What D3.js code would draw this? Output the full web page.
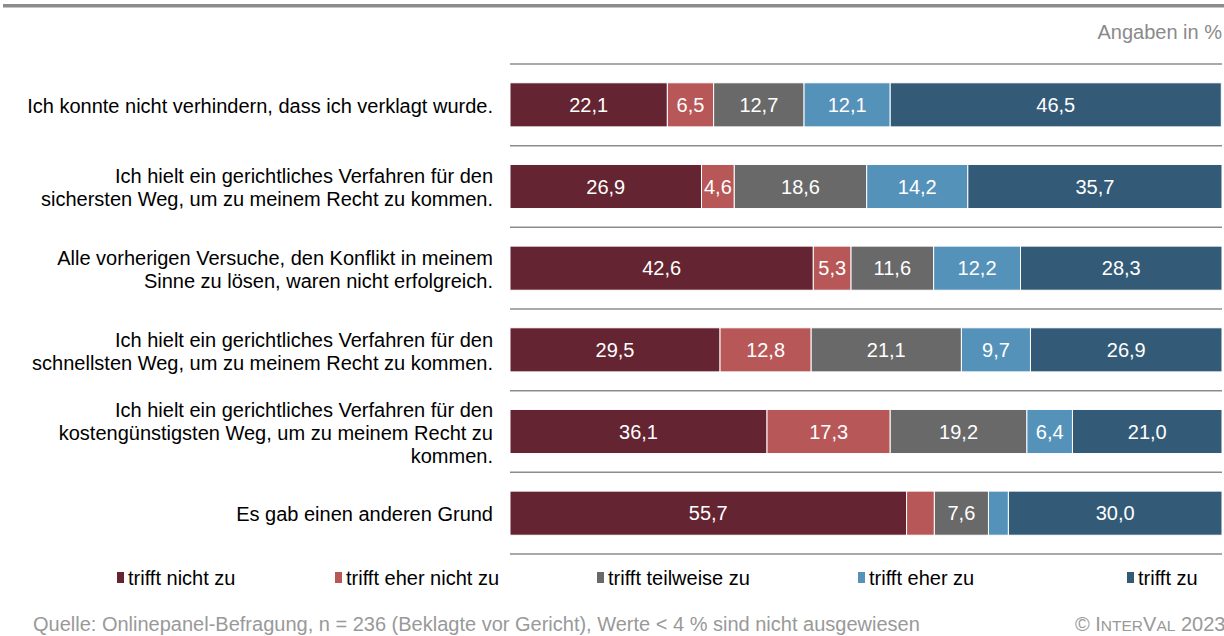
<!DOCTYPE html>
<html><head><meta charset="utf-8">
<script src="https://cdn.jsdelivr.net/npm/d3@7"></script>
<style>
html,body{margin:0;padding:0;background:#fff;overflow:hidden;}
svg{display:block;font-family:"Liberation Sans",Arial,sans-serif;}
</style></head>
<body>
<svg id="c" width="1224" height="636"></svg>
<script>
const categories = [
  ["Ich konnte nicht verhindern, dass ich verklagt wurde."],
  ["Ich hielt ein gerichtliches Verfahren für den","sichersten Weg, um zu meinem Recht zu kommen."],
  ["Alle vorherigen Versuche, den Konflikt in meinem","Sinne zu lösen, waren nicht erfolgreich."],
  ["Ich hielt ein gerichtliches Verfahren für den","schnellsten Weg, um zu meinem Recht zu kommen."],
  ["Ich hielt ein gerichtliches Verfahren für den","kostengünstigsten Weg, um zu meinem Recht zu","kommen."],
  ["Es gab einen anderen Grund"]
];
const seriesNames = ["trifft nicht zu","trifft eher nicht zu","trifft teilweise zu","trifft eher zu","trifft zu"];
const triffNichtZu      = [22.1, 26.9, 42.6, 29.5, 36.1, 55.7];
const triffEherNichtZu  = [6.5, 4.6, 5.3, 12.8, 17.3, 3.9];
const triffTeilweiseZu  = [12.7, 18.6, 11.6, 21.1, 19.2, 7.6];
const triffEherZu       = [12.1, 14.2, 12.2, 9.7, 6.4, 2.8];
const triffZu           = [46.5, 35.7, 28.3, 26.9, 21.0, 30.0];
const colors = ["#652431","#B85757","#696969","#5592BA","#335B78"];

const series = [triffNichtZu, triffEherNichtZu, triffTeilweiseZu, triffEherZu, triffZu];
const svg = d3.select("#c");
const FS = 20;

// top rule
svg.append("rect").attr("x",3).attr("y",4).attr("width",1221).attr("height",3.5).attr("fill","#8c8c8c");

svg.append("text").attr("x",1222).attr("y",39).attr("text-anchor","end")
  .attr("font-size",FS).attr("fill","#8a8a8a").text("Angaben in %");

const x = d3.scaleLinear().domain([0,100]).range([510,1222]);
const rowIdx = d3.range(categories.length);
const y = d3.scaleBand().domain(rowIdx).range([64,554]).paddingInner(0.46).paddingOuter(0.23);

// separator lines
const step = (554-64)/categories.length;
svg.selectAll("line.sep").data(d3.range(categories.length+1)).join("line")
  .attr("x1",510).attr("x2",1222)
  .attr("y1",d=>64+d*step).attr("y2",d=>64+d*step)
  .attr("stroke","#8c8c8c").attr("stroke-width",1.5);

// bars
rowIdx.forEach(i=>{
  let cum = 0;
  series.forEach((s,k)=>{
    const v = s[i];
    const x0 = x(cum), x1 = x(cum+v);
    svg.append("rect").attr("x",x0).attr("y",y(i)).attr("width",x1-x0).attr("height",y.bandwidth())
      .attr("fill",colors[k]).attr("stroke","#fff").attr("stroke-width",1);
    if (v >= 4) {
      svg.append("text").attr("x",(x0+x1)/2).attr("y",y(i)+y.bandwidth()/2).attr("dy","0.36em")
        .attr("text-anchor","middle").attr("font-size",FS).attr("fill","#fff")
        .text(d3.format(".1f")(v).replace(".",","));
    }
    cum += v;
  });
  // category label
  const lines = categories[i];
  const lh = 23;
  const cy = y(i)+y.bandwidth()/2 + 1;
  const t = svg.append("text").attr("text-anchor","end").attr("font-size",FS).attr("fill","#000");
  lines.forEach((ln,j)=>{
    t.append("tspan").attr("x",493).attr("y",cy + (j-(lines.length-1)/2)*lh).attr("dy","0.36em").text(ln);
  });
});

// legend
const legX = [117,335,597,858,1127];
seriesNames.forEach((n,k)=>{
  svg.append("rect").attr("x",legX[k]).attr("y",572).attr("width",7).attr("height",11).attr("fill",colors[k]);
  svg.append("text").attr("x",legX[k]+11).attr("y",578).attr("dy","0.36em").attr("font-size",FS).attr("fill","#000").text(n);
});

// footer
svg.append("text").attr("x",33).attr("y",631).attr("font-size",FS).attr("fill","#999")
  .text("Quelle: Onlinepanel-Befragung, n = 236 (Beklagte vor Gericht), Werte < 4 % sind nicht ausgewiesen");
const cr = svg.append("text").attr("x",1075).attr("y",631).attr("font-size",FS).attr("fill","#999");
cr.append("tspan").text("© I");
cr.append("tspan").attr("font-size",15.5).text("NTER");
cr.append("tspan").text("V");
cr.append("tspan").attr("font-size",15.5).text("AL");
cr.append("tspan").text(" 2023");
</script>
</body></html>
